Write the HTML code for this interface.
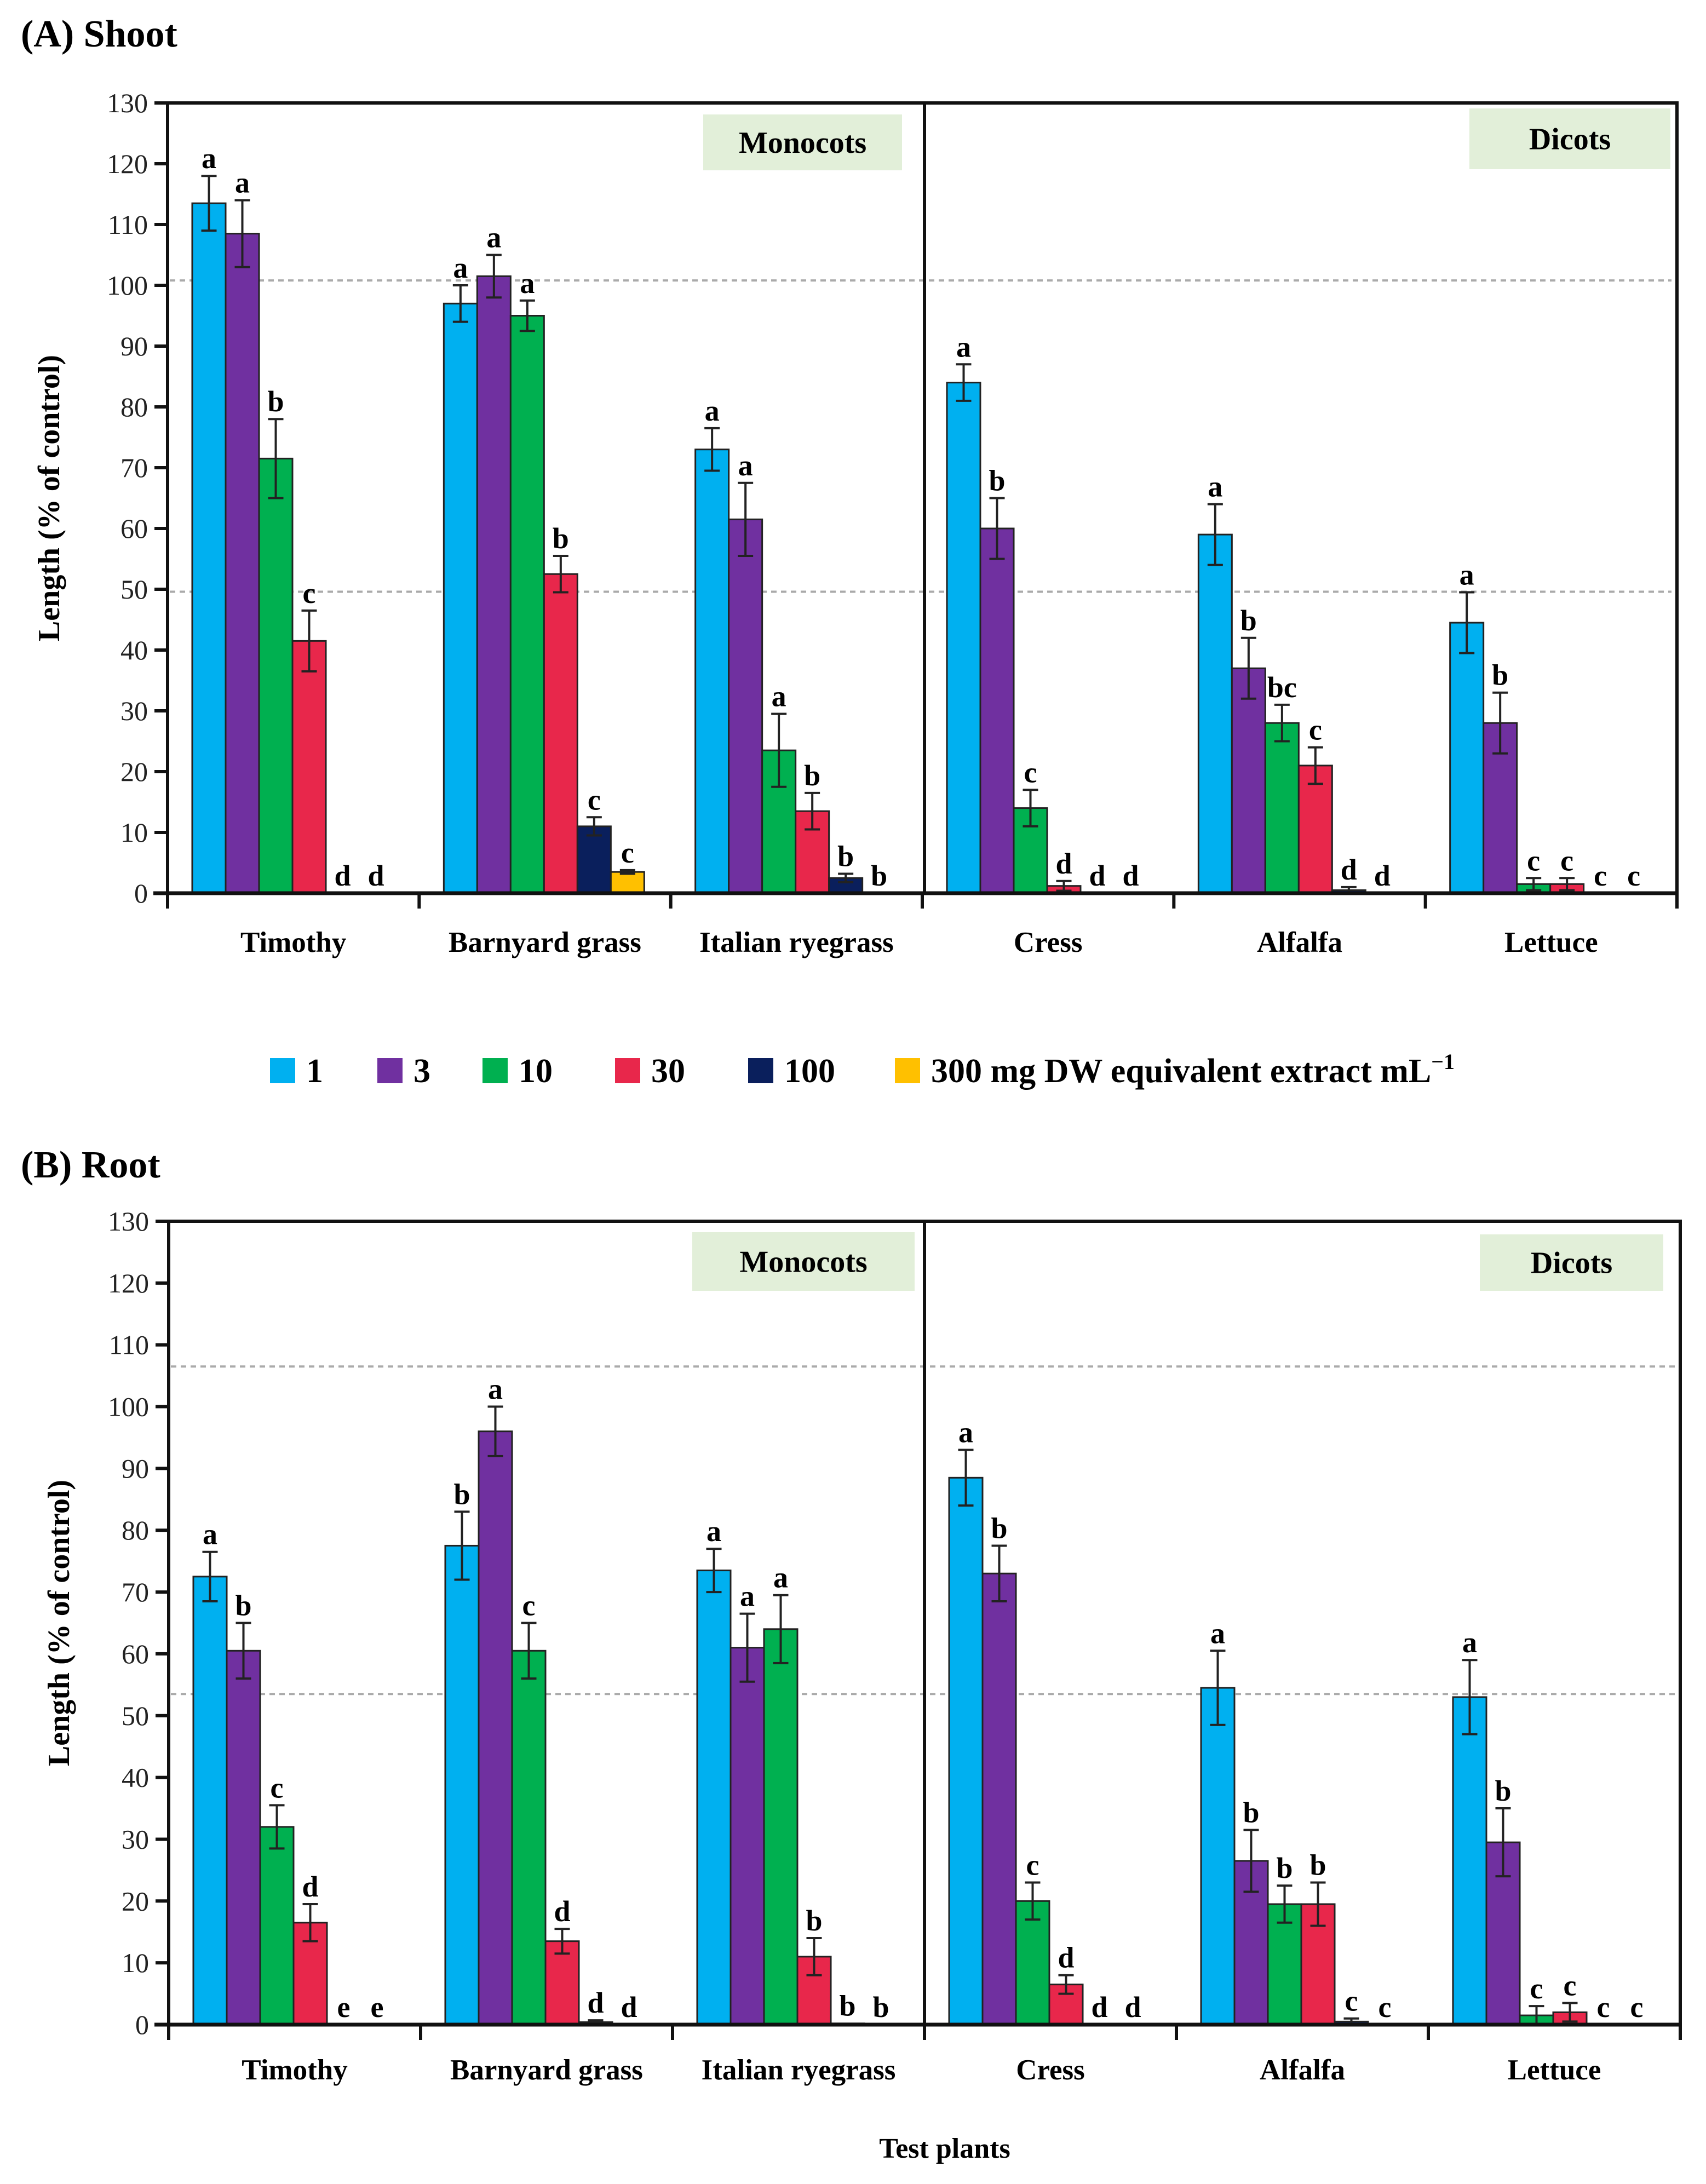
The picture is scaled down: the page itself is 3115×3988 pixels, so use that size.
<!DOCTYPE html>
<html><head><meta charset="utf-8"><style>
body{margin:0;background:#fff;}
svg{display:block;font-family:"Liberation Serif",serif;}
</style></head><body>
<svg id="fig" width="3115" height="3988" viewBox="0 0 3115 3988" xmlns="http://www.w3.org/2000/svg">
<text x="38" y="85" font-size="70" font-weight="bold">(A) Shoot</text>
<text x="38" y="2150" font-size="70" font-weight="bold">(B) Root</text>
<g id="chartA"></g>
<g id="chartB"></g>
<g id="legend"></g>
<text x="1725" y="3940" font-size="52" font-weight="bold" text-anchor="middle">Test plants</text>
</svg>
<script>
const categories = ["Timothy","Barnyard grass","Italian ryegrass","Cress","Alfalfa","Lettuce"];
const seriesNames = ["1","3","10","30","100","300"];
const yTicks = [0,10,20,30,40,50,60,70,80,90,100,110,120,130];
const shootValues = [[113.5,108.5,71.5,41.5,0,0],[97,101.5,95,52.5,11,3.5],[73,61.5,23.5,13.5,2.5,0],[84,60,14,1.2,0,0],[59,37,28,21,0.5,0],[44.5,28,1.5,1.5,0,0]];
const shootErrors = [[4.5,5.5,6.5,5,0,0],[3,3.5,2.5,3,1.5,0.3],[3.5,6,6,3,0.7,0],[3,5,3,0.8,0,0],[5,5,3,3,0.5,0],[5,5,1,1,0,0]];
const shootLetters = [["a","a","b","c","d","d"],["a","a","a","b","c","c"],["a","a","a","b","b","b"],["a","b","c","d","d","d"],["a","b","bc","c","d","d"],["a","b","c","c","c","c"]];
const shootRefLines = [100.8,49.6];
const rootValues = [[72.5,60.5,32,16.5,0,0],[77.5,96,60.5,13.5,0.4,0],[73.5,61,64,11,0.2,0],[88.5,73,20,6.5,0,0],[54.5,26.5,19.5,19.5,0.5,0],[53,29.5,1.5,2,0,0]];
const rootErrors = [[4,4.5,3.5,3,0,0],[5.5,4,4.5,2,0.3,0],[3.5,5.5,5.5,3,0,0],[4.5,4.5,3,1.5,0,0],[6,5,3,3.5,0.5,0],[6,5.5,1.5,1.5,0,0]];
const rootLetters = [["a","b","c","d","e","e"],["b","a","c","d","d","d"],["a","a","a","b","b","b"],["a","b","c","d","d","d"],["a","b","b","b","c","c"],["a","b","c","c","c","c"]];
const rootRefLines = [106.5,53.5];
const colors = ["#00b0f0","#7030a0","#00b050","#e8274b","#0a1f5c","#ffc000"];
const NS="http://www.w3.org/2000/svg";
function mk(tag,attrs,parent){const e=document.createElementNS(NS,tag);for(const k in attrs)e.setAttribute(k,attrs[k]);parent.appendChild(e);return e;}

function drawChart(g,cfg,values,errors,letters,refLines){
  const L=cfg.left,R=cfg.right,T=cfg.top,B=cfg.bottom;
  const y=v=>B-(v/130)*(B-T);
  const gw=(R-L)/categories.length;
  const x=(ci,si)=>L+ci*gw+45+si*61;
  let r=mk('rect',{x:cfg.mono[0],y:cfg.mono[1],width:cfg.mono[2],height:cfg.mono[3],fill:'#e2efd9'},g);
  
  let t=mk('text',{x:cfg.mono[0]+cfg.mono[2]/2,y:cfg.mono[1]+cfg.mono[3]/2+19,'font-size':56,'font-weight':'bold','text-anchor':'middle'},g);t.textContent='Monocots';
  
  r=mk('rect',{x:cfg.dico[0],y:cfg.dico[1],width:cfg.dico[2],height:cfg.dico[3],fill:'#e2efd9'},g);
  
  t=mk('text',{x:cfg.dico[0]+cfg.dico[2]/2,y:cfg.dico[1]+cfg.dico[3]/2+19,'font-size':56,'font-weight':'bold','text-anchor':'middle'},g);t.textContent='Dicots';
  
  refLines.forEach(v=>{const l=mk('line',{x1:L+4,x2:R-10,y1:y(v),y2:y(v),stroke:'#aaa','stroke-width':4,'stroke-dasharray':'10 8'},g);
    });
  values.forEach((row,ci)=>row.forEach((v,si)=>{
    const bx=x(ci,si);
    if(v>0){const b=mk('rect',{x:bx,y:y(v),width:61,height:B-y(v),fill:colors[si],stroke:'#222','stroke-width':3},g);
      
      }
    const e=errors[ci][si];let top=y(v);
    if(e>0){const cx=bx+30.5;const p=mk('path',{d:`M${cx} ${y(v+e)}V${y(Math.max(v-e,0))}M${cx-14} ${y(v+e)}H${cx+14}M${cx-14} ${y(Math.max(v-e,0))}H${cx+14}`,stroke:'#222','stroke-width':4,fill:'none'},g);
      top=y(v+e);}
    const lt=mk('text',{x:bx+30.5,y:Math.min(top,y(v))-14,'font-size':54,'font-weight':'bold','text-anchor':'middle'},g);
    lt.textContent=letters[ci][si];
    
  }));
  const fr=mk('path',{d:`M${L} ${T}H${R}V${B}M${L} ${T}V${B+28}M${cfg.div} ${T}V${B}`,stroke:'#111','stroke-width':6,fill:'none'},g);
  
  const xa=mk('line',{x1:L-26,x2:R,y1:B,y2:B,stroke:'#111','stroke-width':7},g);
  
  yTicks.forEach(v=>{const tk=mk('line',{x1:L-24,x2:L,y1:y(v),y2:y(v),stroke:'#111','stroke-width':6},g);
    
    const tl=mk('text',{x:L-36,y:y(v)+17,'font-size':50,'text-anchor':'end',fill:'#222'},g);tl.textContent=v;
    });
  categories.forEach((c,ci)=>{
    const tk=mk('line',{x1:L+(ci+1)*gw,x2:L+(ci+1)*gw,y1:B,y2:B+28,stroke:'#111','stroke-width':6},g);
    
    const tl=mk('text',{x:L+ci*gw+gw/2,y:cfg.labelY,'font-size':53,'font-weight':'bold','text-anchor':'middle'},g);tl.textContent=c;
    });
  const yt=mk('text',{x:cfg.ytX,y:(T+B)/2,'font-size':56,'font-weight':'bold','text-anchor':'middle',transform:`rotate(-90 ${cfg.ytX} ${(T+B)/2})`},g);
  yt.textContent='Length (% of control)';
  
}
drawChart(document.getElementById('chartA'),{left:306,right:3062,top:188,bottom:1631,div:1688,mono:[1284,209,363,102],dico:[2683,198,367,111],labelY:1738,ytX:108},shootValues,shootErrors,shootLetters,shootRefLines);
drawChart(document.getElementById('chartB'),{left:308,right:3068,top:2230,bottom:3697,div:1688,mono:[1264,2250,406,107],dico:[2702,2254,335,103],labelY:3797,ytX:126},rootValues,rootErrors,rootLetters,rootRefLines);
const lg=document.getElementById('legend');
const legX=[493,689,881,1123,1366,1634];
const legLabels=["1","3","10","30","100","300 mg DW equivalent extract  mL"];
legLabels.forEach((s,i)=>{
  const r=mk('rect',{x:legX[i],y:1932,width:46,height:46,fill:colors[i]},lg);
  
  const t=mk('text',{x:legX[i]+66,y:1976,'font-size':62,'font-weight':'bold'},lg);t.textContent=s;
  if(i===5){const ts=mk('tspan',{'font-size':40,dy:-24},t);ts.textContent='−1';}
  
});
</script>
</body></html>
